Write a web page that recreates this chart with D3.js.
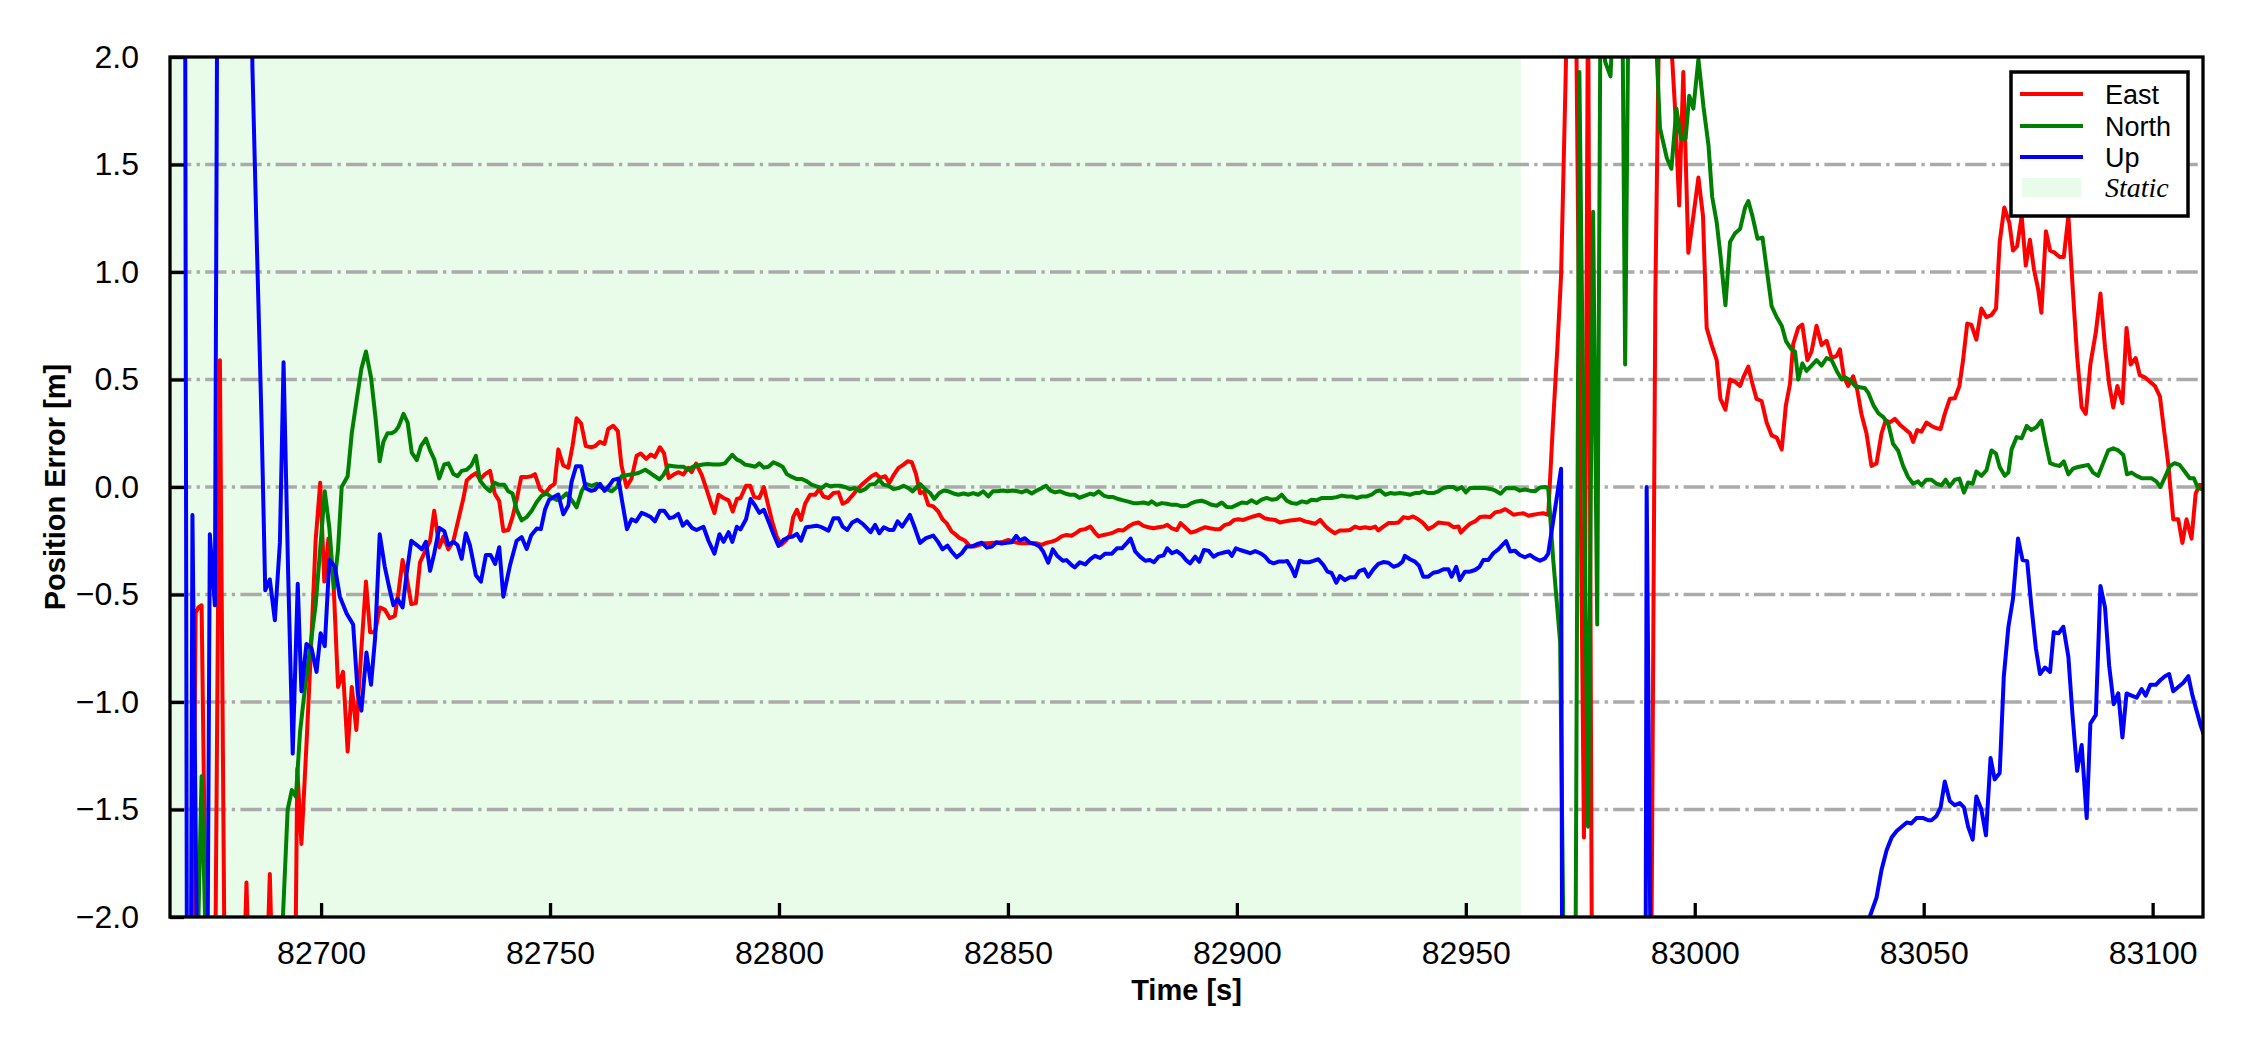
<!DOCTYPE html>
<html>
<head>
<meta charset="utf-8">
<script src="https://cdn.jsdelivr.net/npm/d3@7"></script>
<style>
  html, body { margin: 0; padding: 0; background: #ffffff; }
  svg { display: block; }
</style>
</head>
<body>
<svg id="chart" width="2250" height="1050"></svg>
<script>
// ---------------- data ----------------
const xTicks = [82700, 82750, 82800, 82850, 82900, 82950, 83000, 83050, 83100];
const yTicks = [-2.0, -1.5, -1.0, -0.5, 0.0, 0.5, 1.0, 1.5, 2.0];
const yGridValues = [-1.5, -1.0, -0.5, 0.0, 0.5, 1.0, 1.5];
const xDomain = [82667, 83111];
const yDomain = [-2, 2];
const staticSpan = [82655, 82962];
const seriesNames = ["East", "North", "Up"];
const seriesColors = ["#ff0000", "#008000", "#0000ff"];
const staticLabel = "Static";
const xLabel = "Time [s]";
const yLabel = "Position Error [m]";

// East error [time s, metres]
const eastData = [
[82671.6,-3.0],[82672.6,-0.585],[82673.2,-0.56],[82673.9,-0.55],[82674.9,-2.2],[82675.9,-3.2],[82676.9,-2.2],[82677.9,0.59],[82678.9,-2.2],
[82680.0,-3.0],[82681.0,-3.5],[82682.7,-2.6],[82683.7,-1.84],[82684.7,-2.6],[82686.0,-3.0],[82687.8,-2.5],[82688.8,-1.80],[82689.8,-2.6],
[82691.0,-3.0],[82692.8,-3.2],[82693.8,-3.5],[82694.8,-1.31],[82695.7,-1.66],[82696.8,-1.2],[82697.8,-0.75],[82698.8,-0.25],[82699.8,0.02],
[82700.7,-0.44],[82701.6,-0.24],[82702.7,-0.44],[82703.7,-0.93],[82704.8,-0.86],[82705.8,-1.23],[82706.7,-0.93],[82707.7,-1.13],[82708.8,-0.75],
[82709.8,-0.44],[82710.7,-0.675],[82711.8,-0.675],[82712.8,-0.56],[82713.9,-0.57],[82715.0,-0.61],[82716.1,-0.60],[82716.9,-0.49],[82717.8,-0.34],
[82718.7,-0.42],[82719.7,-0.545],[82720.7,-0.54],[82721.6,-0.35],[82722.7,-0.30],[82723.8,-0.25],[82724.7,-0.11],[82725.8,-0.28],[82726.7,-0.23],
[82727.8,-0.29],[82728.9,-0.25],[82730.0,-0.15],[82731.1,-0.05],[82731.8,0.03],[82732.8,0.05],[82733.8,0.065],[82734.7,0.035],[82735.8,0.06],
[82736.9,0.075],[82737.9,-0.03],[82738.9,-0.065],[82739.8,-0.205],[82740.9,-0.20],[82741.8,-0.14],[82742.7,-0.06],[82743.7,0.046],[82744.8,0.046],
[82745.9,0.05],[82746.7,0.06],[82747.8,-0.01],[82748.9,-0.03],[82750.0,0.0],[82751.0,0.015],[82751.8,0.175],[82752.9,0.10],[82754.0,0.09],
[82754.9,0.19],[82755.8,0.32],[82756.8,0.295],[82757.8,0.19],[82759.0,0.185],[82759.8,0.19],[82760.9,0.21],[82761.9,0.20],[82762.7,0.27],
[82763.8,0.285],[82764.8,0.26],[82765.6,0.10],[82766.7,0.0],[82767.8,0.04],[82768.9,0.145],[82769.8,0.156],[82771.0,0.131],[82772.0,0.151],
[82772.9,0.14],[82774.0,0.185],[82774.9,0.156],[82775.9,0.042],[82777.0,0.058],[82778.0,0.069],[82779.1,0.058],[82780.2,0.089],[82780.9,0.069],
[82781.9,0.109],[82783.1,0.058],[82784.2,-0.012],[82785.1,-0.072],[82785.9,-0.121],[82786.8,-0.036],[82787.9,-0.051],[82789.0,-0.062],[82789.9,-0.114],
[82790.8,-0.056],[82791.6,-0.051],[82792.8,0.006],[82793.7,0.006],[82794.6,-0.047],[82795.7,-0.051],[82796.7,0.0],[82797.7,-0.09],[82798.6,-0.168],
[82799.5,-0.23],[82800.5,-0.269],[82801.5,-0.249],[82802.4,-0.223],[82803.1,-0.14],[82803.9,-0.106],[82804.8,-0.153],[82805.7,-0.078],[82806.8,-0.036],
[82807.9,-0.036],[82808.8,-0.009],[82809.7,-0.044],[82810.8,-0.051],[82811.9,-0.028],[82813.0,-0.025],[82813.9,-0.078],[82814.9,-0.067],[82816.0,-0.04],
[82817.1,-0.012],[82818.1,0.011],[82819.2,0.031],[82820.2,0.05],[82821.2,0.061],[82822.1,0.042],[82823.2,0.05],[82824.1,0.019],[82825.1,0.058],
[82826.1,0.089],[82827.2,0.104],[82828.1,0.12],[82829.0,0.115],[82829.9,0.062],[82830.8,-0.028],[82831.7,-0.023],[82832.6,-0.083],[82833.7,-0.09],
[82834.8,-0.114],[82835.7,-0.15],[82836.6,-0.168],[82837.7,-0.207],[82838.4,-0.218],[82839.5,-0.238],[82840.6,-0.249],[82841.6,-0.274],[82842.6,-0.277],
[82843.8,-0.269],[82844.8,-0.262],[82845.7,-0.262],[82846.8,-0.259],[82847.9,-0.259],[82849.0,-0.254],[82850.1,-0.246],[82851.0,-0.254],[82852.1,-0.259],
[82853.0,-0.262],[82854.1,-0.262],[82855.2,-0.262],[82856.3,-0.262],[82857.4,-0.269],[82858.5,-0.259],[82859.6,-0.254],[82860.6,-0.246],[82861.7,-0.23],
[82862.8,-0.223],[82863.9,-0.227],[82865.0,-0.212],[82865.8,-0.20],[82866.9,-0.196],[82868.0,-0.184],[82869.0,-0.212],[82869.8,-0.23],[82870.9,-0.223],
[82872.0,-0.218],[82873.0,-0.212],[82874.1,-0.2],[82875.2,-0.202],[82876.3,-0.184],[82877.4,-0.171],[82878.5,-0.165],[82879.6,-0.181],[82880.7,-0.187],
[82881.8,-0.192],[82882.9,-0.187],[82884.0,-0.184],[82884.8,-0.176],[82885.8,-0.192],[82886.9,-0.2],[82887.7,-0.168],[82888.9,-0.192],[82889.9,-0.212],
[82890.9,-0.207],[82892.0,-0.196],[82893.1,-0.187],[82894.1,-0.192],[82895.2,-0.196],[82896.3,-0.196],[82897.4,-0.176],[82898.4,-0.171],[82899.4,-0.153],
[82900.3,-0.15],[82901.4,-0.153],[82902.5,-0.145],[82903.6,-0.137],[82904.9,-0.129],[82906.0,-0.145],[82907.1,-0.15],[82908.3,-0.153],[82909.4,-0.165],
[82910.5,-0.16],[82911.6,-0.156],[82912.7,-0.153],[82913.8,-0.15],[82914.9,-0.16],[82916.0,-0.165],[82917.1,-0.171],[82918.2,-0.153],[82919.3,-0.181],
[82920.3,-0.2],[82921.4,-0.215],[82922.5,-0.202],[82923.6,-0.202],[82924.7,-0.2],[82925.8,-0.184],[82926.9,-0.192],[82928.0,-0.187],[82929.1,-0.192],
[82930.2,-0.184],[82930.9,-0.202],[82932.0,-0.184],[82933.1,-0.168],[82934.2,-0.168],[82935.3,-0.165],[82936.4,-0.14],[82937.5,-0.145],[82938.5,-0.137],
[82939.6,-0.15],[82940.7,-0.168],[82941.8,-0.196],[82942.9,-0.184],[82944.0,-0.165],[82945.1,-0.168],[82946.2,-0.171],[82947.3,-0.187],[82948.4,-0.184],
[82948.9,-0.212],[82949.8,-0.192],[82950.9,-0.171],[82952.0,-0.16],[82953.1,-0.14],[82954.2,-0.137],[82955.3,-0.14],[82956.4,-0.118],[82957.5,-0.114],
[82958.6,-0.103],[82959.7,-0.118],[82960.4,-0.129],[82961.5,-0.125],[82962.6,-0.122],[82963.7,-0.134],[82964.7,-0.129],[82965.8,-0.125],[82966.9,-0.122],
[82968.0,-0.13],[82969.0,0.28],[82970.0,0.65],[82970.8,0.98],[82971.8,1.9],[82972.8,3.0],[82974.0,2.4],[82975.8,-1.63],[82976.7,2.4],[82977.6,-2.6],
[82980.0,-3.5],[82985.0,-3.5],[82990.3,-3.0],[82991.4,0.90],[82992.4,2.5],[82993.5,2.8],[82994.5,2.2],[82995.7,1.76],[82996.6,1.31],[82997.5,1.93],
[82998.6,1.09],[82999.7,1.26],[83000.8,1.44],[83001.8,1.26],[83002.6,0.74],[83003.7,0.66],[83004.8,0.59],[83005.6,0.41],[83006.7,0.36],[83007.7,0.50],
[83008.8,0.49],[83009.9,0.47],[83010.6,0.51],[83011.7,0.56],[83012.6,0.48],[83013.5,0.41],[83014.6,0.40],[83015.7,0.30],[83016.8,0.24],[83017.9,0.23],
[83019.0,0.175],[83019.9,0.38],[83020.8,0.48],[83021.5,0.665],[83022.6,0.74],[83023.5,0.755],[83024.6,0.59],[83025.5,0.63],[83026.6,0.75],[83027.7,0.66],
[83028.8,0.68],[83029.9,0.60],[83031.0,0.61],[83031.7,0.64],[83032.6,0.51],[83033.5,0.47],[83034.6,0.515],[83035.5,0.45],[83036.4,0.34],[83037.5,0.25],
[83038.6,0.098],[83039.7,0.11],[83040.8,0.25],[83041.7,0.31],[83042.6,0.30],[83043.7,0.317],[83044.8,0.29],[83045.9,0.27],[83047.0,0.25],[83047.7,0.21],
[83048.6,0.265],[83049.5,0.257],[83050.6,0.30],[83051.7,0.284],[83052.8,0.273],[83053.7,0.27],[83054.6,0.34],[83055.7,0.41],[83056.8,0.413],[83057.8,0.47],
[83058.6,0.59],[83059.5,0.76],[83060.4,0.755],[83061.5,0.685],[83062.6,0.83],[83063.7,0.79],[83064.8,0.80],[83065.8,0.83],[83066.6,1.14],[83067.6,1.30],
[83068.7,1.23],[83069.5,1.10],[83070.4,1.12],[83071.4,1.26],[83072.3,1.03],[83073.2,1.15],[83074.1,1.01],[83075.0,0.92],[83075.7,0.81],[83076.7,1.19],
[83077.6,1.10],[83078.6,1.09],[83079.7,1.07],[83080.6,1.07],[83081.6,1.26],[83082.5,0.94],[83083.5,0.61],[83084.5,0.37],[83085.4,0.34],[83086.4,0.57],
[83087.6,0.72],[83088.6,0.90],[83089.6,0.65],[83090.5,0.48],[83091.4,0.37],[83092.3,0.47],[83093.4,0.39],[83094.3,0.74],[83095.2,0.57],[83096.3,0.60],
[83097.2,0.52],[83098.3,0.51],[83099.4,0.49],[83100.5,0.47],[83101.6,0.42],[83102.4,0.28],[83103.4,0.11],[83104.5,-0.15],[83105.6,-0.15],[83106.5,-0.26],
[83107.4,-0.15],[83108.5,-0.24],[83109.4,-0.03],[83110.3,0.01],[83111.3,0.0]
];

// North error [time s, metres]
const northData = [
[82672.0,-4.0],[82673.0,-2.2],[82673.9,-1.345],[82675.0,-2.3],[82676.0,-3.5],[82680.0,-4.0],[82685.0,-4.0],[82689.0,-3.5],[82690.7,-2.6],
[82691.7,-1.98],[82692.7,-1.5],[82693.6,-1.41],[82694.5,-1.44],[82695.4,-1.14],[82696.5,-0.93],[82697.6,-0.75],[82698.8,-0.55],[82699.8,-0.29],
[82700.8,-0.02],[82701.8,-0.19],[82702.8,-0.47],[82703.7,-0.29],[82704.5,0.0],[82705.8,0.05],[82706.7,0.25],[82707.8,0.41],[82708.8,0.55],
[82709.8,0.63],[82710.9,0.51],[82711.9,0.32],[82712.8,0.12],[82713.6,0.21],[82714.5,0.25],[82715.4,0.25],[82716.2,0.26],[82716.9,0.28],
[82718.0,0.34],[82718.9,0.30],[82719.8,0.16],[82720.9,0.125],[82721.8,0.19],[82722.9,0.225],[82723.8,0.17],[82724.7,0.13],[82725.8,0.04],
[82726.9,0.105],[82727.8,0.11],[82728.9,0.06],[82729.8,0.05],[82730.7,0.075],[82731.8,0.08],[82732.8,0.10],[82733.8,0.145],[82734.7,0.03],
[82735.8,0.0],[82736.9,-0.02],[82737.8,0.02],[82738.9,0.01],[82740.0,0.01],[82740.9,-0.02],[82741.8,-0.03],[82742.7,-0.105],[82743.8,-0.155],
[82744.9,-0.14],[82746.0,-0.11],[82747.1,-0.07],[82748.2,-0.04],[82749.3,-0.03],[82750.4,-0.05],[82751.5,-0.06],[82752.6,-0.05],[82753.6,-0.03],
[82754.7,-0.06],[82755.8,-0.095],[82756.9,-0.02],[82757.8,0.015],[82759.1,0.005],[82760.2,0.015],[82761.3,-0.005],[82762.4,-0.01],[82763.5,-0.02],
[82764.6,0.0],[82765.6,0.05],[82766.7,0.055],[82768.2,0.06],[82769.3,0.065],[82770.8,0.08],[82771.9,0.065],[82772.9,0.05],[82773.9,0.035],
[82774.8,0.057],[82775.9,0.10],[82777.0,0.097],[82778.0,0.094],[82779.1,0.094],[82780.2,0.08],[82781.2,0.094],[82782.2,0.10],[82783.4,0.105],
[82784.4,0.107],[82785.7,0.105],[82787.1,0.105],[82788.2,0.11],[82789.0,0.13],[82789.8,0.15],[82790.8,0.127],[82791.6,0.12],[82792.6,0.104],
[82793.7,0.10],[82794.8,0.094],[82795.7,0.11],[82796.7,0.09],[82797.7,0.094],[82798.8,0.115],[82799.9,0.104],[82800.8,0.094],[82801.7,0.06],
[82802.8,0.047],[82803.9,0.037],[82805.0,0.037],[82806.1,0.026],[82807.1,0.011],[82808.2,0.003],[82809.3,-0.005],[82810.3,0.011],[82811.2,0.003],
[82812.2,0.006],[82813.3,0.006],[82814.4,0.0],[82815.5,-0.01],[82816.6,-0.005],[82817.7,-0.02],[82818.8,-0.01],[82819.9,0.011],[82821.0,0.014],
[82821.9,0.034],[82822.8,0.011],[82823.9,0.006],[82825.0,-0.01],[82826.1,-0.005],[82827.2,0.006],[82828.3,-0.005],[82829.2,-0.02],[82830.1,0.0],
[82830.8,0.014],[82831.9,-0.01],[82833.0,-0.028],[82833.9,-0.055],[82835.0,-0.028],[82836.0,-0.016],[82837.0,-0.02],[82838.1,-0.03],[82839.2,-0.036],
[82840.3,-0.03],[82841.4,-0.036],[82842.4,-0.028],[82843.5,-0.036],[82844.6,-0.02],[82845.7,-0.044],[82846.7,-0.02],[82847.7,-0.02],[82848.9,-0.016],
[82849.9,-0.02],[82851.0,-0.016],[82852.1,-0.02],[82853.0,-0.025],[82854.1,-0.016],[82855.2,-0.03],[82856.3,-0.016],[82857.4,-0.005],[82858.3,0.006],
[82859.3,-0.017],[82860.3,-0.025],[82861.4,-0.02],[82862.5,-0.03],[82863.5,-0.036],[82864.6,-0.036],[82865.6,-0.05],[82866.9,-0.04],[82868.0,-0.031],
[82868.8,-0.036],[82869.8,-0.02],[82870.9,-0.04],[82872.0,-0.047],[82873.0,-0.047],[82874.1,-0.056],[82875.2,-0.062],[82876.3,-0.068],[82877.4,-0.075],
[82878.5,-0.075],[82879.6,-0.072],[82880.7,-0.078],[82881.4,-0.067],[82882.5,-0.083],[82883.6,-0.075],[82884.7,-0.078],[82885.8,-0.083],[82886.9,-0.083],
[82888.0,-0.09],[82889.1,-0.087],[82890.1,-0.075],[82891.2,-0.067],[82892.3,-0.064],[82893.4,-0.072],[82894.5,-0.083],[82895.6,-0.087],[82896.7,-0.072],
[82897.8,-0.093],[82898.9,-0.094],[82900.0,-0.083],[82901.1,-0.072],[82902.2,-0.075],[82903.2,-0.062],[82904.3,-0.075],[82905.4,-0.059],[82906.5,-0.051],
[82907.6,-0.059],[82908.7,-0.056],[82909.8,-0.036],[82910.9,-0.064],[82912.0,-0.075],[82913.1,-0.078],[82914.2,-0.067],[82915.3,-0.072],[82916.3,-0.059],
[82917.4,-0.062],[82918.5,-0.051],[82919.6,-0.051],[82920.7,-0.051],[82921.8,-0.047],[82922.9,-0.04],[82924.0,-0.044],[82925.1,-0.044],[82926.2,-0.051],
[82927.3,-0.044],[82928.4,-0.044],[82929.4,-0.036],[82930.4,-0.02],[82931.3,-0.016],[82932.4,-0.036],[82933.5,-0.028],[82934.5,-0.031],[82935.6,-0.028],
[82936.7,-0.031],[82937.8,-0.036],[82938.9,-0.028],[82939.9,-0.028],[82940.7,-0.02],[82941.8,-0.028],[82942.9,-0.028],[82944.0,-0.02],[82945.1,-0.005],
[82946.2,0.0],[82947.3,0.0],[82948.1,-0.012],[82949.1,0.0],[82950.0,-0.025],[82950.9,-0.005],[82952.0,-0.005],[82953.1,-0.005],[82954.2,-0.005],
[82955.3,-0.009],[82956.4,-0.016],[82957.6,-0.031],[82958.8,-0.005],[82959.7,-0.006],[82960.7,-0.005],[82961.8,-0.017],[82962.9,-0.012],[82964.0,-0.017],
[82965.1,-0.02],[82966.2,-0.002],[82967.3,0.0],[82968.0,-0.005],[82969.1,-0.34],[82970.6,-0.72],[82971.8,-3.0],[82972.8,-3.5],[82973.8,-3.0],
[82974.8,1.93],[82976.7,-1.58],[82977.8,1.28],[82978.7,-0.64],[82979.5,2.6],[82980.4,1.98],[82981.6,1.91],[82982.8,2.5],[82984.0,2.8],[82984.8,0.57],
[82985.8,2.9],[82988.0,3.2],[82990.9,2.4],[82992.4,1.67],[82993.9,1.53],[82994.9,1.48],[82996.0,1.76],[82997.0,1.62],[82998.0,1.62],[82998.8,1.82],
[82999.7,1.76],[83000.8,1.99],[83001.9,1.77],[83003.0,1.59],[83003.8,1.35],[83004.8,1.23],[83005.6,1.08],[83006.7,0.845],[83007.7,1.14],[83008.8,1.18],
[83009.9,1.2],[83011.0,1.30],[83011.7,1.33],[83012.6,1.26],[83013.7,1.155],[83014.8,1.16],[83015.8,1.0],[83016.8,0.84],[83017.9,0.79],[83019.0,0.75],
[83019.9,0.68],[83021.1,0.64],[83021.9,0.63],[83022.6,0.50],[83023.5,0.575],[83024.4,0.54],[83025.5,0.565],[83026.6,0.59],[83027.7,0.565],[83028.8,0.60],
[83029.9,0.59],[83031.0,0.54],[83032.1,0.50],[83032.8,0.51],[83033.9,0.497],[83035.0,0.47],[83036.1,0.464],[83037.2,0.459],[83037.9,0.438],[83039.0,0.381],
[83040.1,0.343],[83041.2,0.325],[83042.3,0.291],[83043.3,0.201],[83044.4,0.17],[83045.5,0.098],[83046.6,0.046],[83047.7,0.015],[83048.8,0.026],[83049.5,0.008],
[83050.6,0.034],[83051.7,0.034],[83052.8,0.015],[83053.9,0.008],[83054.8,0.034],[83055.7,0.003],[83056.8,0.034],[83057.8,0.039],[83058.8,-0.026],[83059.7,0.021],
[83060.7,0.015],[83061.5,0.072],[83062.6,0.052],[83063.7,0.077],[83064.8,0.17],[83065.8,0.155],[83066.6,0.093],[83067.7,0.052],[83068.5,0.067],[83069.2,0.175],
[83070.3,0.232],[83071.4,0.227],[83072.5,0.284],[83073.5,0.265],[83074.6,0.278],[83075.7,0.309],[83076.7,0.201],[83077.6,0.111],[83078.6,0.103],[83079.7,0.098],
[83080.6,0.119],[83081.6,0.059],[83082.6,0.085],[83083.7,0.093],[83084.8,0.098],[83085.9,0.103],[83087.0,0.067],[83088.1,0.052],[83089.2,0.111],[83090.3,0.17],
[83091.4,0.18],[83092.5,0.17],[83093.6,0.149],[83094.4,0.059],[83095.4,0.067],[83096.5,0.052],[83097.6,0.041],[83098.7,0.041],[83099.7,0.041],[83100.8,0.026],
[83101.7,0.0],[83102.7,0.046],[83103.8,0.098],[83104.8,0.111],[83105.9,0.103],[83107.0,0.072],[83108.1,0.041],[83109.0,0.041],[83109.9,-0.005],[83110.7,-0.01],
[83111.5,-0.01]
];

// Up error [time s, metres]
const upData = [
[82670.0,6.0],[82671.0,-6.0],[82671.9,-0.13],[82673.0,-2.4],[82674.0,-4.5],[82675.0,-3.0],[82675.7,-0.22],[82676.8,-0.55],[82677.8,5.0],
[82679.0,7.0],[82681.0,8.0],[82683.0,6.0],[82684.0,3.6],[82685.0,1.95],[82686.0,1.1],[82687.0,0.3],[82687.8,-0.48],[82688.8,-0.43],
[82689.9,-0.62],[82691.0,-0.26],[82691.8,0.58],[82692.8,-0.4],[82693.8,-1.24],[82694.9,-0.45],[82695.7,-0.95],[82696.8,-0.73],[82697.9,-0.75],
[82699.0,-0.86],[82699.9,-0.68],[82700.8,-0.74],[82701.8,-0.34],[82703.0,-0.37],[82704.1,-0.51],[82705.6,-0.59],[82707.0,-0.64],[82708.0,-0.96],
[82708.8,-1.04],[82709.9,-0.77],[82710.9,-0.92],[82711.8,-0.70],[82712.8,-0.22],[82713.9,-0.37],[82714.9,-0.47],[82715.8,-0.55],[82716.7,-0.52],
[82717.8,-0.56],[82718.7,-0.40],[82719.7,-0.25],[82720.9,-0.27],[82722.0,-0.29],[82722.9,-0.255],[82723.8,-0.39],[82724.7,-0.31],[82725.8,-0.19],
[82726.9,-0.205],[82727.8,-0.27],[82728.9,-0.255],[82729.8,-0.27],[82730.7,-0.334],[82731.6,-0.215],[82732.5,-0.27],[82733.8,-0.41],[82734.9,-0.44],
[82736.0,-0.316],[82737.0,-0.316],[82738.0,-0.358],[82738.9,-0.28],[82739.8,-0.51],[82741.3,-0.36],[82742.7,-0.25],[82743.8,-0.233],[82744.9,-0.288],
[82745.9,-0.224],[82747.1,-0.193],[82748.0,-0.196],[82748.9,-0.105],[82749.8,-0.059],[82751.0,-0.044],[82751.8,-0.035],[82752.9,-0.127],[82754.0,-0.086],
[82754.7,0.024],[82755.7,0.097],[82756.8,0.097],[82757.8,-0.006],[82759.0,-0.018],[82759.8,-0.013],[82760.9,0.015],[82761.9,-0.018],[82763.0,0.009],
[82763.8,0.033],[82764.9,0.039],[82765.9,-0.086],[82766.8,-0.196],[82767.8,-0.15],[82768.8,-0.16],[82770.0,-0.12],[82771.1,-0.13],[82772.0,-0.14],
[82772.9,-0.16],[82774.0,-0.11],[82774.9,-0.11],[82776.1,-0.145],[82777.0,-0.14],[82778.0,-0.125],[82779.0,-0.18],[82779.9,-0.16],[82781.0,-0.19],
[82782.0,-0.20],[82783.5,-0.185],[82784.6,-0.25],[82785.9,-0.31],[82787.0,-0.22],[82787.9,-0.255],[82789.0,-0.21],[82789.8,-0.255],[82790.8,-0.185],
[82791.6,-0.197],[82792.8,-0.15],[82793.8,-0.056],[82794.8,-0.087],[82795.7,-0.12],[82796.7,-0.106],[82797.9,-0.17],[82798.8,-0.22],[82799.9,-0.274],
[82801.0,-0.246],[82802.1,-0.234],[82803.0,-0.23],[82803.9,-0.218],[82804.8,-0.25],[82805.9,-0.187],[82807.1,-0.184],[82808.2,-0.18],[82809.3,-0.187],
[82810.8,-0.203],[82811.9,-0.145],[82813.0,-0.145],[82813.9,-0.184],[82814.9,-0.20],[82816.0,-0.165],[82817.1,-0.153],[82818.3,-0.171],[82819.4,-0.196],
[82820.0,-0.21],[82821.0,-0.176],[82821.9,-0.215],[82822.9,-0.187],[82824.1,-0.20],[82825.0,-0.20],[82825.9,-0.16],[82826.9,-0.184],[82828.6,-0.13],
[82829.7,-0.192],[82830.8,-0.26],[82832.1,-0.238],[82833.7,-0.226],[82834.7,-0.254],[82835.7,-0.29],[82836.8,-0.273],[82837.7,-0.30],[82838.8,-0.327],
[82839.9,-0.308],[82841.0,-0.277],[82842.1,-0.277],[82843.2,-0.266],[82844.3,-0.259],[82845.4,-0.282],[82846.5,-0.277],[82847.5,-0.257],[82848.6,-0.263],
[82849.7,-0.259],[82850.8,-0.257],[82851.8,-0.227],[82852.6,-0.249],[82853.7,-0.238],[82854.8,-0.259],[82855.9,-0.265],[82856.9,-0.277],[82857.7,-0.30],
[82858.8,-0.352],[82859.8,-0.29],[82860.8,-0.321],[82862.0,-0.343],[82862.8,-0.340],[82863.9,-0.363],[82864.6,-0.374],[82865.7,-0.35],[82866.9,-0.36],
[82868.0,-0.335],[82869.0,-0.32],[82870.1,-0.33],[82871.2,-0.31],[82872.7,-0.31],[82873.8,-0.285],[82874.9,-0.285],[82876.0,-0.26],[82876.8,-0.24],
[82877.8,-0.30],[82878.9,-0.325],[82880.0,-0.343],[82881.0,-0.34],[82881.9,-0.35],[82882.9,-0.324],[82884.0,-0.318],[82884.8,-0.285],[82885.8,-0.308],
[82886.9,-0.298],[82888.0,-0.316],[82888.9,-0.34],[82889.8,-0.355],[82890.9,-0.324],[82891.8,-0.347],[82892.8,-0.293],[82893.8,-0.296],[82894.9,-0.324],
[82896.0,-0.311],[82897.1,-0.305],[82898.2,-0.30],[82898.9,-0.32],[82899.8,-0.285],[82900.7,-0.293],[82901.8,-0.30],[82902.9,-0.308],[82904.0,-0.298],
[82905.1,-0.308],[82906.2,-0.324],[82907.1,-0.347],[82908.0,-0.355],[82909.1,-0.347],[82910.2,-0.347],[82911.0,-0.344],[82912.0,-0.38],[82912.7,-0.415],
[82913.7,-0.343],[82914.7,-0.35],[82915.8,-0.35],[82916.7,-0.344],[82917.8,-0.336],[82918.9,-0.363],[82919.8,-0.394],[82920.7,-0.40],[82921.7,-0.445],
[82922.5,-0.414],[82923.6,-0.433],[82924.7,-0.42],[82925.8,-0.42],[82926.7,-0.391],[82927.8,-0.383],[82928.7,-0.417],[82929.8,-0.383],[82930.9,-0.358],
[82932.0,-0.349],[82933.1,-0.352],[82934.2,-0.371],[82935.3,-0.363],[82936.2,-0.347],[82936.7,-0.32],[82937.8,-0.336],[82938.9,-0.347],[82939.8,-0.367],
[82940.7,-0.417],[82941.8,-0.417],[82942.9,-0.399],[82944.0,-0.394],[82945.1,-0.383],[82946.2,-0.383],[82946.9,-0.417],[82947.9,-0.371],[82948.7,-0.433],
[82949.8,-0.394],[82950.9,-0.394],[82952.0,-0.386],[82953.0,-0.371],[82953.8,-0.34],[82954.9,-0.34],[82956.0,-0.308],[82957.1,-0.29],[82957.8,-0.274],
[82958.8,-0.252],[82959.7,-0.30],[82960.7,-0.296],[82961.8,-0.316],[82962.9,-0.327],[82964.0,-0.316],[82965.1,-0.332],[82966.2,-0.343],[82967.3,-0.332],
[82968.0,-0.31],[82969.0,-0.17],[82970.0,-0.03],[82970.8,0.085],[82971.8,-10.0],[82975.0,-9.0],[82980.0,-8.0],[82985.0,-9.0],[82988.6,-9.0],
[82989.5,0.0],[82990.5,-2.6],[82991.5,-7.0],[83000.0,-6.0],[83010.0,-5.0],[83020.0,-4.0],[83030.0,-3.2],[83037.2,-2.2],[83038.2,-2.0],
[83039.7,-1.91],[83040.8,-1.78],[83041.9,-1.69],[83043.0,-1.63],[83044.1,-1.60],[83045.2,-1.58],[83046.3,-1.56],[83047.3,-1.565],[83048.4,-1.54],
[83049.9,-1.54],[83051.0,-1.55],[83051.7,-1.55],[83052.8,-1.53],[83053.7,-1.49],[83054.6,-1.37],[83055.7,-1.46],[83056.8,-1.48],[83057.9,-1.47],
[83058.8,-1.49],[83059.7,-1.58],[83060.7,-1.64],[83061.5,-1.44],[83062.6,-1.50],[83063.6,-1.62],[83064.6,-1.26],[83065.5,-1.36],[83066.6,-1.33],
[83067.5,-0.88],[83068.5,-0.65],[83069.5,-0.52],[83070.6,-0.24],[83071.6,-0.34],[83072.6,-0.345],[83073.5,-0.55],[83074.5,-0.75],[83075.4,-0.87],
[83076.5,-0.84],[83077.6,-0.86],[83078.4,-0.675],[83079.5,-0.68],[83080.5,-0.65],[83081.6,-0.79],[83082.5,-1.06],[83083.5,-1.32],[83084.5,-1.20],
[83085.6,-1.54],[83086.4,-1.10],[83087.6,-1.06],[83088.6,-0.46],[83089.6,-0.56],[83090.5,-0.83],[83091.5,-1.01],[83092.5,-0.96],[83093.4,-1.165],
[83094.3,-0.96],[83095.4,-0.97],[83096.5,-0.98],[83097.6,-0.94],[83098.5,-0.97],[83099.5,-0.92],[83100.7,-0.92],[83101.6,-0.90],[83102.7,-0.88],
[83103.6,-0.87],[83104.5,-0.95],[83105.6,-0.93],[83106.7,-0.91],[83107.8,-0.88],[83108.7,-0.97],[83109.6,-1.04],[83110.5,-1.11],[83111.3,-1.16]
];

const seriesData = [eastData, northData, upData];

// ---------------- layout ----------------
const W = 2250, H = 1050;
const plot = { left: 170, right: 2203, top: 57, bottom: 917 };
const FONT = "'Liberation Sans', Arial, Helvetica, sans-serif";

const svg = d3.select("#chart");
svg.append("rect").attr("width", W).attr("height", H).attr("fill", "#ffffff");

const x = d3.scaleLinear().domain(xDomain).range([plot.left, plot.right]);
const y = d3.scaleLinear().domain(yDomain).range([plot.bottom, plot.top]);

svg.append("defs").append("clipPath").attr("id", "plotClip")
  .append("rect")
  .attr("x", plot.left).attr("y", plot.top)
  .attr("width", plot.right - plot.left).attr("height", plot.bottom - plot.top);

const inner = svg.append("g").attr("clip-path", "url(#plotClip)");

// static shaded region
inner.append("rect")
  .attr("x", x(staticSpan[0]))
  .attr("y", plot.top)
  .attr("width", x(staticSpan[1]) - x(staticSpan[0]))
  .attr("height", plot.bottom - plot.top)
  .attr("fill", "#e9fce9");

// horizontal dash-dot grid
inner.selectAll("line.grid")
  .data(yGridValues)
  .enter().append("line")
  .attr("class", "grid")
  .attr("x1", plot.left).attr("x2", plot.right)
  .attr("y1", d => y(d)).attr("y2", d => y(d))
  .attr("stroke", "#aaaaaa")
  .attr("stroke-width", 3.3)
  .attr("stroke-dasharray", "21.3,5.3,3.3,5.3");

// series lines
const line = d3.line().x(d => x(d[0])).y(d => y(d[1]));
seriesData.forEach((data, i) => {
  inner.append("path")
    .datum(data)
    .attr("d", line)
    .attr("fill", "none")
    .attr("stroke", seriesColors[i])
    .attr("stroke-width", 4)
    .attr("stroke-linejoin", "round")
    .attr("stroke-linecap", "butt");
});

// axes (ticks inward) using d3 axis generators
const xAxis = d3.axisBottom(x).tickValues(xTicks).tickSize(-14).tickPadding(24)
  .tickFormat(d3.format("d"));
const gx = svg.append("g").attr("transform", `translate(0,${plot.bottom})`).call(xAxis);
gx.select(".domain").remove();
gx.selectAll(".tick line").attr("stroke", "#000").attr("stroke-width", 3.3);
gx.selectAll(".tick text").attr("font-family", FONT).attr("font-size", 32).attr("fill", "#000");

const yAxis = d3.axisLeft(y).tickValues(yTicks).tickSize(-14).tickPadding(31)
  .tickFormat(d3.format(".1f"));
const gy = svg.append("g").attr("transform", `translate(${plot.left},0)`).call(yAxis);
gy.select(".domain").remove();
gy.selectAll(".tick line").attr("stroke", "#000").attr("stroke-width", 3.3);
gy.selectAll(".tick text").attr("font-family", FONT).attr("font-size", 32).attr("fill", "#000");

// frame
svg.append("rect")
  .attr("x", plot.left).attr("y", plot.top)
  .attr("width", plot.right - plot.left).attr("height", plot.bottom - plot.top)
  .attr("fill", "none").attr("stroke", "#000").attr("stroke-width", 3.3);

// axis labels
svg.append("text")
  .attr("x", (plot.left + plot.right) / 2).attr("y", 1000)
  .attr("text-anchor", "middle")
  .attr("font-family", FONT).attr("font-weight", "bold").attr("font-size", 29)
  .text(xLabel);

svg.append("text")
  .attr("transform", `translate(65,${(plot.top + plot.bottom) / 2}) rotate(-90)`)
  .attr("text-anchor", "middle")
  .attr("font-family", FONT).attr("font-weight", "bold").attr("font-size", 29)
  .text(yLabel);

// legend
const lg = svg.append("g");
lg.append("rect")
  .attr("x", 2011).attr("y", 72).attr("width", 177).attr("height", 144)
  .attr("fill", "#ffffff").attr("stroke", "#000").attr("stroke-width", 3.5);
const legendRowY = [94, 126, 157];
seriesNames.forEach((name, i) => {
  lg.append("line")
    .attr("x1", 2020).attr("x2", 2083)
    .attr("y1", legendRowY[i]).attr("y2", legendRowY[i])
    .attr("stroke", seriesColors[i]).attr("stroke-width", 4);
  lg.append("text")
    .attr("x", 2105).attr("y", legendRowY[i] + 10)
    .attr("font-family", FONT).attr("font-size", 27).attr("fill", "#000")
    .text(name);
});
lg.append("rect")
  .attr("x", 2022).attr("y", 178).attr("width", 59).attr("height", 19)
  .attr("fill", "#e9fce9");
lg.append("text")
  .attr("x", 2105).attr("y", 197)
  .attr("font-family", "'Liberation Serif', 'Times New Roman', serif")
  .attr("font-style", "italic").attr("font-size", 28).attr("fill", "#000")
  .text(staticLabel);
</script>
</body>
</html>
